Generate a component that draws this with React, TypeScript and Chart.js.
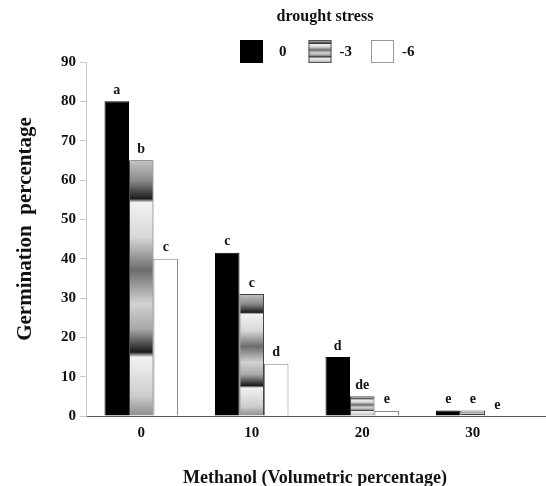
import React, { useEffect, useRef } from 'react';
import { Chart, registerables } from 'chart.js';

Chart.register(...registerables);

// ---- data ----
const categories = ['0', '10', '20', '30'];
const seriesLabels = ['0', '-3', '-6'];
const stress0 = [80, 41.5, 15, 1.4];
const stress3 = [65, 31, 5, 1.4];
const stress6 = [40, 13.3, 1.3, 0];
const letters0 = ['a', 'c', 'd', 'e'];
const letters3 = ['b', 'c', 'de', 'e'];
const letters6 = ['c', 'd', 'e', 'e'];
const legendTitle = 'drought stress';
const xTitle = 'Methanol (Volumetric percentage)';
const yTitle = 'Germination  percentage';
const yMax = 90;
const yStep = 10;

const FONT = "'Liberation Serif', 'Times New Roman', serif";

const STOPS: [number, string][] = [
  [0, '#c4c4c4'],
  [0.08, '#8a8a8a'],
  [0.15, '#1c1c1c'],
  [0.165, '#f2f2f2'],
  [0.3, '#d8d8d8'],
  [0.43, '#6c6c6c'],
  [0.56, '#d2d2d2'],
  [0.66, '#a8a8a8'],
  [0.75, '#1a1a1a'],
  [0.77, '#f2f2f2'],
  [0.92, '#cdcdcd'],
  [1, '#8c8c8c'],
];

function stripeGradient(ctx: CanvasRenderingContext2D, top: number, bottom: number) {
  const g = ctx.createLinearGradient(0, top, 0, bottom);
  STOPS.forEach(([t, c]) => g.addColorStop(t, c));
  return g;
}

const letterSets = [letters0, letters3, letters6];

const lettersPlugin = {
  id: 'letters',
  afterDatasetsDraw(chart: any) {
    const ctx = chart.ctx;
    ctx.save();
    ctx.font = `bold 14px ${FONT}`;
    ctx.fillStyle = '#111';
    ctx.textAlign = 'center';
    ctx.textBaseline = 'bottom';
    chart.data.datasets.forEach((ds: any, di: number) => {
      const meta = chart.getDatasetMeta(di);
      meta.data.forEach((el: any, i: number) => {
        const txt = letterSets[di][i];
        if (!txt) return;
        ctx.fillText(txt, el.x, el.y - 4);
      });
    });
    ctx.restore();
  },
};

const axisExtendPlugin = {
  id: 'axisExtend',
  afterDraw(chart: any) {
    const { ctx, chartArea, width } = chart;
    ctx.save();
    ctx.strokeStyle = '#555';
    ctx.lineWidth = 1;
    ctx.beginPath();
    ctx.moveTo(chartArea.right, chartArea.bottom + 0.5);
    ctx.lineTo(width, chartArea.bottom + 0.5);
    ctx.stroke();
    ctx.restore();
  },
};

const titlesPlugin = {
  id: 'axisTitles',
  afterDraw(chart: any) {
    const { ctx, chartArea } = chart;
    ctx.save();
    ctx.fillStyle = '#111';
    ctx.textAlign = 'center';
    ctx.textBaseline = 'alphabetic';
    ctx.font = `bold 18px ${FONT}`;
    const cx = (chartArea.left + chartArea.right) / 2 + 8;
    ctx.fillText(xTitle, cx, 483);
    ctx.translate(31, (chartArea.top + chartArea.bottom) / 2 - 10);
    ctx.rotate(-Math.PI / 2);
    ctx.font = `bold 21px ${FONT}`;
    ctx.fillText(yTitle, 0, 0);
    ctx.restore();
  },
};

const legendPlugin = {
  id: 'customLegend',
  afterDraw(chart: any) {
    const ctx = chart.ctx;
    ctx.save();
    ctx.fillStyle = '#111';
    ctx.font = `bold 16px ${FONT}`;
    ctx.textAlign = 'center';
    ctx.textBaseline = 'middle';
    ctx.fillText(legendTitle, 325, 17);
    const box = 23;
    const top = 40;
    let x = 240;
    ctx.font = `bold 15px ${FONT}`;
    ctx.textAlign = 'left';
    chart.data.datasets.forEach((ds: any, i: number) => {
      if (i === 1) {
        ctx.fillStyle = stripeGradient(ctx, top, top + box);
      } else {
        ctx.fillStyle = i === 0 ? '#000' : '#fff';
      }
      ctx.fillRect(x, top, box, box);
      ctx.strokeStyle = i === 0 ? '#000' : i === 1 ? '#555' : '#999';
      ctx.lineWidth = 1;
      ctx.strokeRect(x + 0.5, top + 0.5, box - 1, box - 1);
      const tx = x + box + (i === 0 ? 16 : 8);
      ctx.fillStyle = '#111';
      ctx.fillText(ds.label, tx, top + box / 2 + 1);
      const w = ctx.measureText(ds.label).width;
      x = tx + w + (i === 0 ? 22 : 19);
    });
    ctx.restore();
  },
};

export default function App() {
  const ref = useRef<HTMLCanvasElement | null>(null);

  useEffect(() => {
    if (!ref.current) return;
    const chart = new Chart(ref.current, {
      type: 'bar',
      data: {
        labels: categories,
        datasets: [
          {
            label: seriesLabels[0],
            data: stress0,
            backgroundColor: '#000',
            borderColor: '#000',
            borderWidth: 1,
          },
          {
            label: seriesLabels[1],
            data: stress3,
            backgroundColor: (c: any) => {
              const chart = c.chart;
              if (!chart.chartArea || c.type !== 'data') return '#999';
              const ys = chart.scales.y;
              const top = ys.getPixelForValue(c.raw);
              const base = ys.getPixelForValue(0);
              if (base - top < 1) return '#999';
              return stripeGradient(chart.ctx, top, base);
            },
            borderColor: '#444',
            borderWidth: 1,
          },
          {
            label: seriesLabels[2],
            data: stress6,
            backgroundColor: '#fff',
            borderColor: '#8a8a8a',
            borderWidth: 1,
          },
        ],
      },
      options: {
        responsive: false,
        animation: false,
        layout: { padding: { top: 62, right: 18, left: 0, bottom: 0 } },
        datasets: {
          bar: { categoryPercentage: 0.665, barPercentage: 1 },
        },
        plugins: {
          legend: { display: false },
          tooltip: { enabled: false },
        },
        scales: {
          x: {
            grid: { display: false },
            border: { display: true, color: '#555', width: 1 },
            ticks: {
              color: '#111',
              padding: 0,
              font: { family: FONT, weight: 'bold', size: 15 },
            },
            afterFit: (s: any) => {
              s.height = 70;
            },
          },
          y: {
            min: 0,
            max: yMax,
            grid: {
              drawOnChartArea: false,
              drawTicks: true,
              tickLength: 6,
              color: '#c8c8c8',
            },
            border: { display: true, color: '#c8c8c8', width: 1 },
            ticks: {
              stepSize: yStep,
              color: '#111',
              padding: 4,
              font: { family: FONT, weight: 'bold', size: 15 },
            },
            afterFit: (s: any) => {
              s.width = 86;
            },
          },
        },
      },
      plugins: [lettersPlugin, axisExtendPlugin, titlesPlugin, legendPlugin],
    } as any);
    return () => chart.destroy();
  }, []);

  return (
    <div style={{ position: 'absolute', left: 0, top: 0, width: 546, height: 486, background: '#fff' }}>
      <canvas ref={ref} width={546} height={486} />
    </div>
  );
}
